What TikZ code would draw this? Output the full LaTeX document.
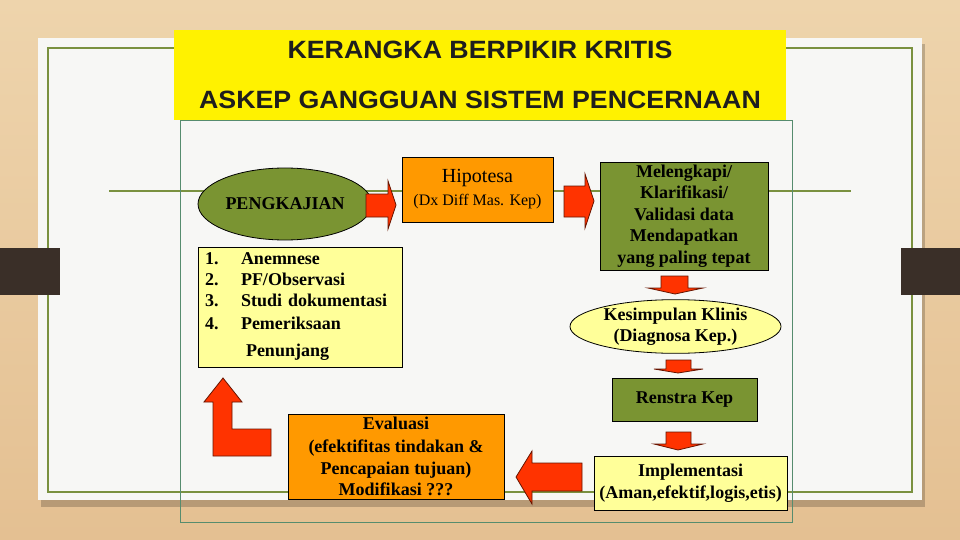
\documentclass[tikz,border=0pt]{standalone}
\usepackage{fontspec}
\setmainfont{Liberation Serif}
\newfontfamily\titlefont[FakeStretch=1.07]{Liberation Sans}
\usepackage{tikz}
\usetikzlibrary{positioning, shapes.geometric}
\definecolor{wood}{RGB}{228,192,146}
\definecolor{woodlight}{RGB}{238,212,172}
\definecolor{paper}{RGB}{247,247,245}
\definecolor{framegreen}{RGB}{122,145,64}
\definecolor{thinteal}{RGB}{86,140,110}
\definecolor{darkbar}{RGB}{58,47,40}
\definecolor{olive}{RGB}{122,148,50}
\definecolor{orangebox}{RGB}{255,153,0}
\definecolor{paleyellow}{RGB}{255,255,153}
\definecolor{arrowred}{RGB}{255,51,0}
\definecolor{titletext}{RGB}{30,30,30}

\begin{document}
\begin{tikzpicture}[x=1pt, y=-1pt,
  box/.style={draw=black, line width=0.8pt, inner sep=2pt, align=center, font=\bfseries\fontsize{18}{21.5}\selectfont},
  oval/.style={box, ellipse},
  blockarrow/.style={fill=arrowred, draw=black!60!arrowred, line width=0.8pt, line join=miter}]
\useasboundingbox (0,0) rectangle (960,540);
\fill[top color=woodlight, bottom color=wood] (0,0) rectangle (960,540);
\fill[black, opacity=0.2] (41,44) rectangle (925,507);
\fill[paper] (38,38) rectangle (922,500);
\draw[framegreen, line width=2.5pt] (48,48) rectangle (912,492);
\fill[darkbar] (0,248) rectangle (60,295);
\fill[darkbar] (901,248) rectangle (960,295);
\draw[framegreen, line width=2.5pt] (109,191) -- (851,191);
\draw[thinteal, line width=0.8pt] (180,120) rectangle (792,522);
\node[fill=yellow, minimum width=612pt, minimum height=90pt, align=center, text=titletext, font=\titlefont\bfseries\fontsize{25}{50}\selectfont] (title) at (480,75) {KERANGKA BERPIKIR KRITIS\\ASKEP GANGGUAN SISTEM PENCERNAAN};

\node[oval, fill=olive, minimum width=150pt, minimum height=72pt] (peng) at (285,204) {PENGKAJIAN};
\node[box, fill=orangebox, minimum width=151pt, minimum height=65pt, font=\fontsize{20}{23}\selectfont] (hipo) at (477.5,189.5) {Hipotesa\\{\fontsize{16}{18}\selectfont (Dx Diff Mas. Kep)}};
\node[box, fill=olive, minimum width=168pt, minimum height=108pt] (valid) at (684,216) {Melengkapi/\\Klarifikasi/\\Validasi data\\Mendapatkan\\yang paling tepat};
\node[oval, fill=paleyellow, minimum width=211pt, minimum height=53pt, inner sep=0pt] (kes) at (675.5,326.5) {Kesimpulan Klinis\\(Diagnosa Kep.)};
\node[box, fill=olive, minimum width=145pt, minimum height=43pt] (renstra) at (684.5,399.5) {Renstra Kep};
\node[box, fill=paleyellow, minimum width=193pt, minimum height=54pt] (impl) at (690.5,483) {Implementasi\\(Aman,efektif,logis,etis)};
\node[box, fill=orangebox, minimum width=216pt, minimum height=85pt] (eval) at (396,456.5) {Evaluasi\\[2pt](efektifitas tindakan \&\\Pencapaian tujuan)\\Modifikasi ???};
\node[box, fill=paleyellow, minimum width=204pt, minimum height=120pt, align=left, text width=190pt, font=\bfseries\fontsize{18}{21}\selectfont] (lst) at (300,307) {\makebox[36pt][l]{1.}Anemnese\\\makebox[36pt][l]{2.}PF/Observasi\\\makebox[36pt][l]{3.}Studi dokumentasi\\[2pt]\makebox[36pt][l]{4.}Pemeriksaan\\[6pt]\hspace*{41pt}Penunjang};

\filldraw[blockarrow] (366,194) -- (388,194) -- (388,181) -- (396,205) -- (388,229) -- (388,217) -- (366,217) -- cycle;
\filldraw[blockarrow] (564,186) -- (585,186) -- (585,174) -- (594,201) -- (585,228) -- (585,217) -- (564,217) -- cycle;
\filldraw[blockarrow] (661,276) -- (688,276) -- (688,288) -- (703,288) -- (675,294) -- (648,288) -- (661,288) -- cycle;
\filldraw[blockarrow] (666,360) -- (691,360) -- (691,369) -- (703,369) -- (678,373) -- (654,369) -- (666,369) -- cycle;
\filldraw[blockarrow] (666,432) -- (691,432) -- (691,444) -- (703,444) -- (678,450) -- (654,444) -- (666,444) -- cycle;
\filldraw[blockarrow] (582,463) -- (532,463) -- (532,451) -- (516,477) -- (532,504) -- (532,491) -- (582,491) -- cycle;
\filldraw[blockarrow] (213,456) -- (271,456) -- (271,429) -- (232,429) -- (232,402) -- (242,402) -- (223,378) -- (204,402) -- (213,402) -- cycle;
\end{tikzpicture}
\end{document}
